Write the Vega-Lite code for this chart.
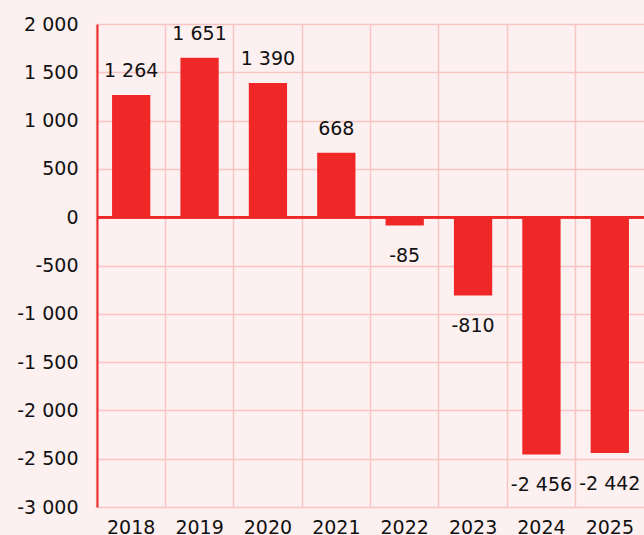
{
  "$schema": "https://vega.github.io/schema/vega-lite/v6.json",
  "width": 547,
  "height": 483,
  "autosize": {"type": "none"},
  "padding": {"left": 97, "top": 24, "right": 0, "bottom": 28},
  "background": "#fdf0f0",
  "config": {
    "locale": {"number": {"decimal": ".", "thousands": " ", "grouping": [3], "currency": ["", ""], "minus": "-"}},
    "font": "DejaVu Sans",
    "view": {"stroke": null},
    "axis": {"labelFont": "DejaVu Sans", "labelFontSize": 19, "labelColor": "#111111", "gridColor": "#f8c4c4", "gridWidth": 1.5, "gridOpacity": 1, "ticks": false, "title": null}
  },
  "data": {"values": [
    {"year": "2018", "value": 1264},
    {"year": "2019", "value": 1651},
    {"year": "2020", "value": 1390},
    {"year": "2021", "value": 668},
    {"year": "2022", "value": -85},
    {"year": "2023", "value": -810},
    {"year": "2024", "value": -2456},
    {"year": "2025", "value": -2442}
  ]},
  "encoding": {
    "x": {"field": "year", "type": "ordinal", "scale": {"paddingInner": 0.44, "paddingOuter": 0.22}, "axis": {"labelAngle": 0, "domain": false, "grid": true, "bandPosition": -0.393, "labelPadding": 11}},
    "y": {"field": "value", "type": "quantitative", "scale": {"domain": [-3000, 2000], "nice": false}, "axis": {"values": [-3000, -2500, -2000, -1500, -1000, -500, 0, 500, 1000, 1500, 2000], "format": ",d", "domainColor": "#ee2828", "domainWidth": 2, "labelPadding": 19}}
  },
  "layer": [
    {"mark": {"type": "bar", "color": "#ef2827"}},
    {"mark": {"type": "rule", "color": "#ee2828", "strokeWidth": 2}, "encoding": {"y": {"datum": 0}, "x": {"value": 0}, "x2": {"value": 547}}},
    {"transform": [{"filter": "datum.value >= 0"}], "mark": {"type": "text", "fontSize": 19, "baseline": "middle", "dy": -24, "color": "#111111"}, "encoding": {"text": {"field": "value", "type": "quantitative", "format": ",d"}}},
    {"transform": [{"filter": "datum.value < 0"}], "mark": {"type": "text", "fontSize": 19, "baseline": "middle", "dy": 31, "color": "#111111"}, "encoding": {"text": {"field": "value", "type": "quantitative", "format": ",d"}}}
  ]
}
